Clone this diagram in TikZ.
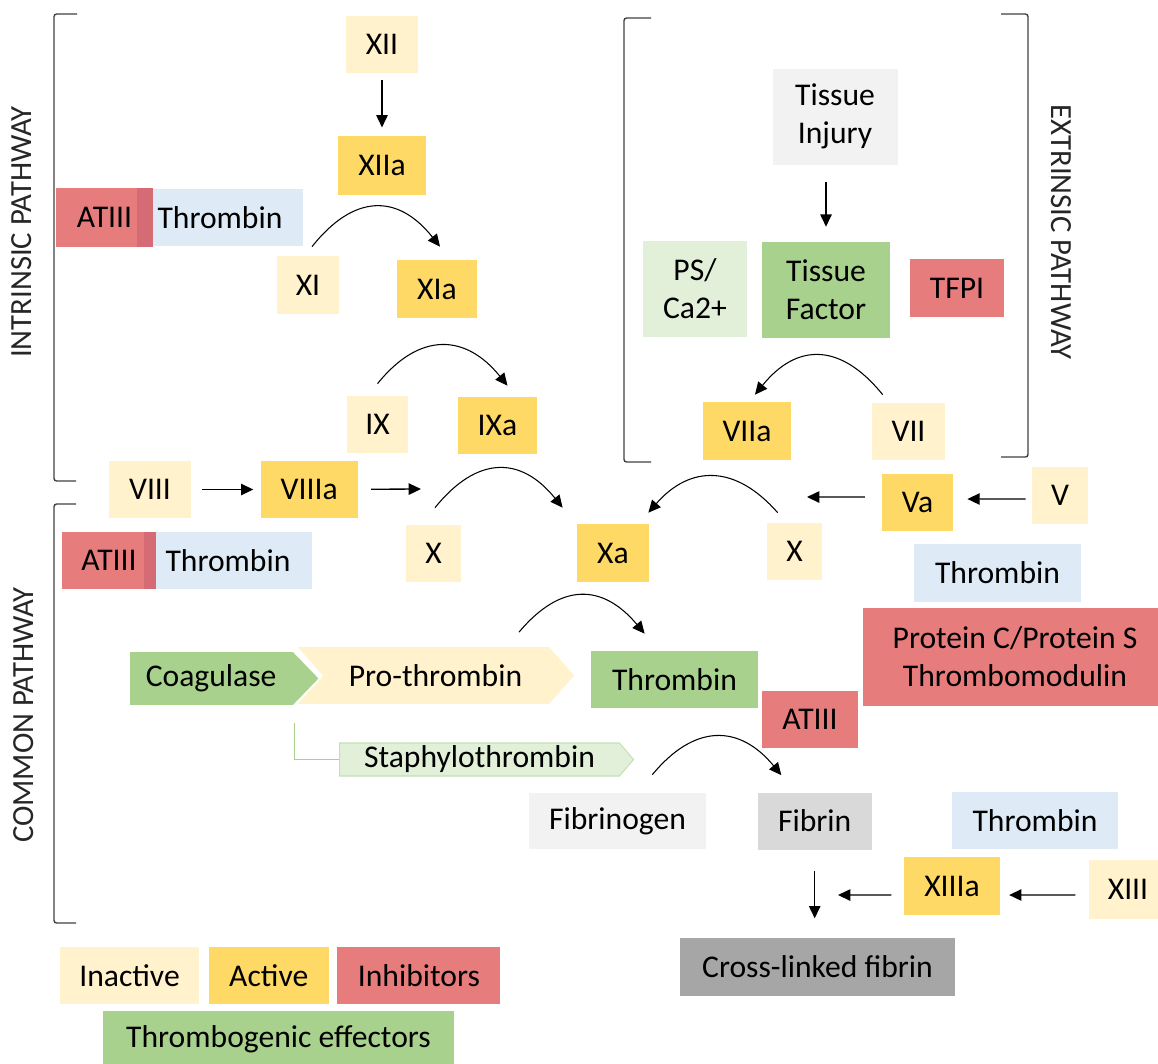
\documentclass[tikz,border=0pt]{standalone}
\usepackage{fontspec}
\setmainfont{Carlito}
\usepackage{tikz}
\usetikzlibrary{arrows.meta,shapes.symbols,positioning}

\definecolor{inact}{HTML}{FFF2CC}
\definecolor{act}{HTML}{FFD966}
\definecolor{inhib}{HTML}{E67C7C}
\definecolor{stripred}{HTML}{D46B75}
\definecolor{effect}{HTML}{A9D18E}
\definecolor{effectlt}{HTML}{E2F0D9}
\definecolor{effectbd}{HTML}{C5E0B4}
\definecolor{thrblue}{HTML}{DEEBF7}
\definecolor{grylt}{HTML}{F2F2F2}
\definecolor{grymd}{HTML}{D9D9D9}
\definecolor{grydk}{HTML}{A6A6A6}
\definecolor{brk}{HTML}{404040}

\begin{document}
\begin{tikzpicture}
    [ x = .02cm, y = -.02cm
    , box/.style =
      { inner sep = 0pt, align = center, text = black
      , font = \fontsize{18}{21.5}\selectfont }
    , dims/.style 2 args =
      { minimum width = #1*.02cm, minimum height = #2*.02cm }
    , inactive/.style =
      { box, fill = inact }
    , active/.style =
      { box, fill = act }
    , inhibitor/.style =
      { box, fill = inhib }
    , effector/.style =
      { box, fill = effect }
    , cofactor/.style =
      { box, fill = effectlt }
    , helper/.style =
      { box, fill = thrblue }
    , tone/.style =
      { box, fill = #1 }
    , chevron/.style =
      { box, signal, signal to = east, signal pointer angle = #1 }
    , flow/.style =
      { -{Triangle[length=7pt,width=6.5pt]}, line width = .75pt }
    , activation/.style =
      { -{Triangle[length=7pt,width=6.5pt]}, line width = .6pt }
    , feeder/.style =
      { draw = effect, line width = .5pt }
    , bracket/.style =
      { draw = brk, line width = .8pt, rounded corners = 1.5pt }
    , pathway/.style =
      { font = \fontsize{17.5}{20}\selectfont, text = black!85 }
    ]
    \useasboundingbox (0,0) rectangle (1158,1063);

    % intrinsic pathway
    \node [inactive, dims={72}{57}] (xii) at (382,44.5) {XII};
    \node [active, dims={88}{59}, below=1.24cm of xii] (xiia) {XIIa};
    \node [helper, dims={166}{57}] (thr1) at (220,217.5) {Thrombin};
    \node [inhibitor, dims={97}{59}] (at1) at (104.5,217.5) {ATIII};
    \fill [stripred] ([xshift=-.32cm]at1.north east) rectangle (at1.south east);
    \node [inactive, dims={62}{58}] (xi) at (308,285) {XI};
    \node [active, dims={80}{58}] (xia) at (437,289) {XIa};
    \node [inactive, dims={61}{57}] (ix) at (377.5,424.5) {IX};
    \node [active, dims={79}{57}] (ixa) at (497.5,425.5) {IXa};
    \node [inactive, dims={82}{57}] (viii) at (150,489.5) {VIII};
    \node [active, dims={97}{57}, right=1.38cm of viii] (viiia) {VIIIa};

    % extrinsic pathway
    \node [tone=grylt, dims={125}{96}] (ti) at (835,116.5) {Tissue\\Injury};
    \node [cofactor, dims={104}{96}] (ps) at (695,288.5) {PS/\\Ca2+};
    \node [effector, dims={128}{96}] (tf) at (826,290) {Tissue\\Factor};
    \node [inhibitor, dims={94}{58}] (tfpi) at (957,288) {TFPI};
    \node [active, dims={88}{58}] (viia) at (747,431) {VIIa};
    \node [inactive, dims={73}{57}] (vii) at (908.5,431.5) {VII};

    % common pathway
    \node [inactive, dims={55}{57}] (xl) at (433.5,553.5) {X};
    \node [active, dims={72}{58}] (xa) at (613,553) {Xa};
    \node [inactive, dims={55}{57}] (xr) at (794.5,551.5) {X};
    \node [active, dims={71}{57}] (va) at (917.5,502.5) {Va};
    \node [inactive, dims={56}{57}] (v) at (1060,495.5) {V};
    \node [helper, dims={167}{58}] (thr2) at (997.5,573) {Thrombin};
    \node [helper, dims={168}{57}] (thr3) at (228,560.5) {Thrombin};
    \node [inhibitor, dims={94}{57}] (at2) at (109,560.5) {ATIII};
    \fill [stripred] ([xshift=-.24cm]at2.north east) rectangle (at2.south east);
    \node [inhibitor, dims={304}{98}] (pcs) at (1015,657)
      {Protein C/Protein S\\Thrombomodulin};
    \node [chevron=97, signal from=west, fill=inact, draw=white, line width=1pt,
      dims={280}{59}] (prot) at (435.5,675.5) {Pro-thrombin};
    \node [chevron=92, fill=effect, draw=white, line width=1pt,
      dims={191}{55}, anchor=west] (coag) at (128,678.5) {Coagulase};
    \node [effector, dims={167}{57}] (thr4) at (674.5,679.5) {Thrombin};
    \node [inhibitor, dims={96}{57}] (at3) at (810,719.5) {ATIII};
    \node [chevron=99, fill=effectlt, draw=effectbd, line width=.6pt,
      dims={294}{33}, anchor=west] (staph) at (339,759.5) {Staphylothrombin};
    \coordinate (cj) at (294,723);
    \node [tone=grylt, dims={177}{56}] (fibg) at (617.5,821) {Fibrinogen};
    \node [tone=grymd, dims={114}{57}, right=1.02cm of fibg] (fib) {Fibrin};
    \node [helper, dims={166}{57}] (thr5) at (1035,820.5) {Thrombin};
    \node [active, dims={96}{58}] (xiiia) at (952,886) {XIIIa};
    \node [inactive, dims={78}{59}] (xiii) at (1128,889.5) {XIII};
    \node [tone=grydk, dims={275}{58}] (xlf) at (817.5,967) {Cross-linked fibrin};

    % legend
    \node [inactive, dims={139}{57}] (lg1) at (129.5,975.5) {Inactive};
    \node [active, dims={120}{57}, right=.18cm of lg1] (lg2) {Active};
    \node [inhibitor, dims={163}{57}, right=.16cm of lg2] (lg3) {Inhibitors};
    \node [effector, dims={351}{56}] (lg4) at (278.5,1039) {Thrombogenic effectors};

    % brackets and labels
    \draw [bracket] (77,14) -- (54,14) -- (54,481) -- (76,481);
    \draw [bracket] (76,504) -- (54,504) -- (54,923) -- (76,923);
    \draw [bracket] (651,18) -- (624,18) -- (624,462) -- (651,462);
    \draw [bracket] (1001,14) -- (1028,14) -- (1028,457) -- (1001,457);
    \node [pathway, rotate=90] (intr) at (22,232) {INTRINSIC PATHWAY};
    \node [pathway, rotate=90] (comm) at (24,715) {COMMON PATHWAY};
    \node [pathway, rotate=-90] (extr) at (1061,232) {EXTRINSIC PATHWAY};

    % straight arrows
    \coordinate (xin) at (421,489);
    \coordinate (vout) at (807,497);
    \coordinate (xiiiout) at (838,895);
    \draw [flow, shorten <=4pt, shorten >=4.5pt] (xii) -- (xiia);
    \draw [flow, shorten <=9.5pt, shorten >=8.5pt] (ti.south -| tf.north) -- (tf.north);
    \draw [flow, shorten <=6pt, shorten >=4pt] (viii) -- (viiia);
    \draw [flow, shorten <=7.5pt] (viiia) -- (xin);
    \draw [flow, shorten <=3.5pt, shorten >=8pt]
      ([yshift=-.07cm]v.west) -- ([yshift=.07cm]va.east);
    \draw [flow, shorten <=9.5pt] ([yshift=.11cm]va.west) -- (vout);
    \draw [flow, shorten <=7.5pt, shorten >=5pt]
      ([yshift=-.11cm]xiii.west) -- ([yshift=-.18cm]xiiia.east);
    \draw [flow, shorten <=7pt] ([yshift=-.18cm]xiiia.west) -- (xiiiout);
    \draw [flow, shorten <=12pt, shorten >=11pt] (fib.south) -- (fib.south |- xlf.north);
    \draw [feeder] (cj) |- (staph.west);

    % activation arcs
    \draw [activation] ([shift={(4,-9)}]xi.north)
      .. controls +(42,-53) and +(-42,-53) .. ([shift={(3,-13)}]xia.north);
    \draw [activation] ([shift={(0,-12)}]ix.north)
      .. controls +(42,-52) and +(-42,-52) .. ([shift={(10,-11)}]ixa.north);
    \draw [activation] ([shift={(1.5,-17)}]xl.north)
      .. controls +(42,-52) and +(-42,-52) .. ([shift={(-14,-16)}]xa.north west);
    \draw [activation] ([shift={(11,-10)}]xr.north west)
      .. controls +(-42,-48) and +(42,-48) .. ([shift={(-1,-11)}]xa.north east);
    \draw [activation] ([shift={(11,-8)}]vii.north west)
      .. controls +(-42,-52) and +(42,-52) .. ([shift={(8,-7)}]viia.north);
    \draw [activation] ([shift={(83.5,-13)}]prot.north)
      .. controls +(42,-50) and +(-42,-50) .. ([shift={(54,-17)}]thr4.north west);
    \draw [activation] ([shift={(-54,-18)}]fibg.north east)
      .. controls +(42,-51) and +(-42,-51) .. ([shift={(24,-17)}]fib.north west);
\end{tikzpicture}
\end{document}
